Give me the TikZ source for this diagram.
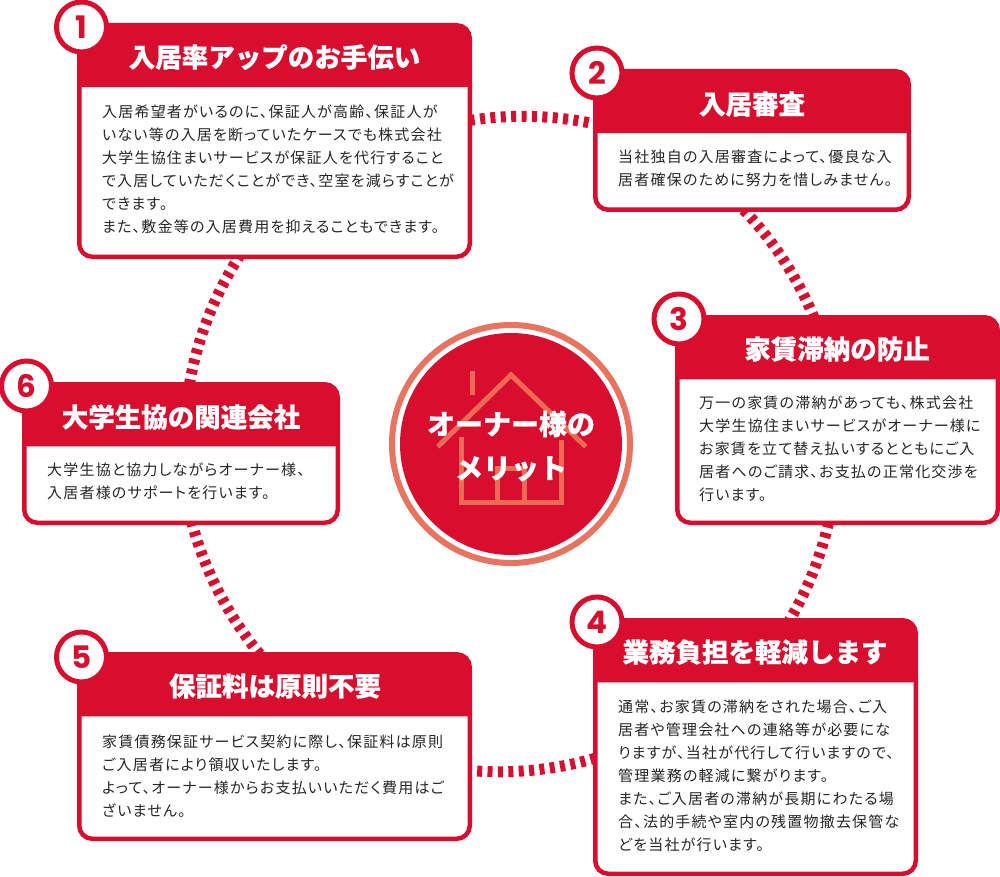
\documentclass[tikz,border=0pt]{standalone}
\usepackage{fontspec}
\usepackage{tikz}
\usetikzlibrary{backgrounds}
\setmainfont{Noto Sans CJK JP}
\newfontfamily\bodyfont[LetterSpace=8,RawFeature=+palt]{Noto Sans CJK JP}
\newfontfamily\headfont[BoldFeatures={FakeBold=0.4}]{Noto Sans CJK JP}
\newfontfamily\numfont{Poppins}
\definecolor{cardred}{HTML}{D90D2E}
\definecolor{ringred}{HTML}{E8735F}
\definecolor{houseline}{HTML}{EF6A55}
\newcommand{\headband}[2]{\fill[cardred] ([yshift=-#2]#1.north west) [rounded corners=13pt] -- (#1.north west) -- (#1.north east) [sharp corners] -- ([yshift=-#2]#1.north east) -- cycle;}
\tikzset{
  cardbox/.style={draw=cardred, line width=4.5pt, fill=white, rounded corners=13pt, inner sep=0pt, outer sep=0pt},
  cardtitle/.style={text=white, font=\headfont\fontsize{26.5}{30}\selectfont\bfseries, inner sep=0pt},
  cardtext/.style={anchor=west, align=left, inner sep=0pt, font=\bodyfont\fontsize{15}{23}\selectfont, text=black!85},
  numdot/.style={circle, draw=cardred, line width=5pt, fill=white, minimum size=50pt, inner sep=0pt, text=cardred, font=\numfont\fontsize{31}{31}\selectfont\bfseries},
  ringlink/.style={draw=cardred, line width=11pt, dash pattern=on 5pt off 5.4pt, looseness=0.85},
  houseedge/.style={draw=houseline, line width=5pt}
}
\begin{document}
\begin{tikzpicture}[x=1pt, y=-1pt]
                \useasboundingbox (0,0) rectangle (1000,877);

                \node[cardbox, minimum width=390.5pt, minimum height=231.5pt] (card1) at (274.5,141) {};
                \node[cardbox, minimum width=313.5pt, minimum height=138.5pt] (card2) at (752,140.5) {};
                \node[cardbox, minimum width=320.5pt, minimum height=205.5pt] (card3) at (837.5,420) {};
                \node[cardbox, minimum width=320.5pt, minimum height=253.5pt] (card4) at (755.5,747) {};
                \node[cardbox, minimum width=390.5pt, minimum height=184.5pt] (card5) at (274.5,746.5) {};
                \node[cardbox, minimum width=313.5pt, minimum height=138.5pt] (card6) at (181,453.5) {};

                \headband{card1}{62pt}
                \headband{card2}{62pt}
                \headband{card3}{62pt}
                \headband{card4}{62pt}
                \headband{card5}{62pt}
                \headband{card6}{62pt}

                \begin{scope}[on background layer]
                \draw[ringlink] (card1.6.84) to[bend left=10.65] (card2.174.6);
                \draw[ringlink] (card2.263.5) to[bend left=10.9] (card3.103.1);
                \draw[ringlink] (card3.265.2) to[bend left=8.85] (card4.75.7);
                \draw[ringlink] (card4.184.8) to[bend left=10.65] (card5.353.6);
                \draw[ringlink] (card5.99.9) to[bend left=12.55] (card6.279.8);
                \draw[ringlink] (card6.83.9) to[bend left=11.7] (card1.253.5);
                \end{scope}

                \node[numdot] (num1) at (81.5,27) {1};
                \node[numdot] (num2) at (597,73) {2};
                \node[numdot] (num3) at (679,319) {3};
                \node[numdot] (num4) at (597,622) {4};
                \node[numdot] (num5) at (81.5,657) {5};
                \node[numdot] (num6) at (26.5,386) {6};

                \node[cardtitle] (title1) at (274.5,57) {入居率アップのお手伝い};
                \node[cardtitle] (title2) at (752,104) {入居審査};
                \node[cardtitle] (title3) at (837,349) {家賃滞納の防止};
                \node[cardtitle] (title4) at (755,652) {業務負担を軽減します};
                \node[cardtitle] (title5) at (275,686) {保証料は原則不要};
                \node[cardtitle] (title6) at (181,417) {大学生協の関連会社};

                \node[cardtext] (text1) at (102,169.5) {入居希望者がいるのに、保証人が高齢、保証人が\\いない等の入居を断っていたケースでも株式会社\\大学生協住まいサービスが保証人を代行すること\\で入居していただくことができ、空室を減らすことが\\できます。\\また、敷金等の入居費用を抑えることもできます。};
                \node[cardtext] (text2) at (618,168.5) {当社独自の入居審査によって、優良な入\\居者確保のために努力を惜しみません。};
                \node[cardtext] (text3) at (699,449) {万一の家賃の滞納があっても、株式会社\\大学生協住まいサービスがオーナー様に\\お家賃を立て替え払いするとともにご入\\居者へのご請求、お支払の正常化交渉を\\行います。};
                \node[cardtext] (text4) at (618,776) {通常、お家賃の滞納をされた場合、ご入\\居者や管理会社への連絡等が必要にな\\りますが、当社が代行して行いますので、\\管理業務の軽減に繋がります。\\また、ご入居者の滞納が長期にわたる場\\合、法的手続や室内の残置物撤去保管な\\どを当社が行います。};
                \node[cardtext] (text5) at (102,776.5) {家賃債務保証サービス契約に際し、保証料は原則\\ご入居者により領収いたします。\\よって、オーナー様からお支払いいただく費用はご\\ざいません。};
                \node[cardtext] (text6) at (47,481.5) {大学生協と協力しながらオーナー様、\\入居者様のサポートを行います。};

                \node[circle, draw=ringred, line width=6pt, minimum size=238pt, inner sep=0pt] (hubring) at (511,444) {};
                \node[circle, fill=cardred, minimum size=222pt, inner sep=0pt] (hubdisc) at (511,444) {};

                \draw[houseedge] (437.7,446.7) -- (511,375) -- (585.7,446.7);
                \draw[houseedge] (472.3,371) -- (472.3,395);
                \draw[houseedge] (461,437) -- (461,502.5) -- (561.7,502.5) -- (561.7,440);
                \draw[houseedge] (497.7,502.5) -- (497.7,468) -- (524,468) -- (524,502.5);

                \node[align=center, inner sep=0pt, text=white, font=\headfont\fontsize{28}{44}\selectfont\bfseries] (hubtext) at (511,446) {オーナー様の\\メリット};

            \end{tikzpicture}
\end{document}
